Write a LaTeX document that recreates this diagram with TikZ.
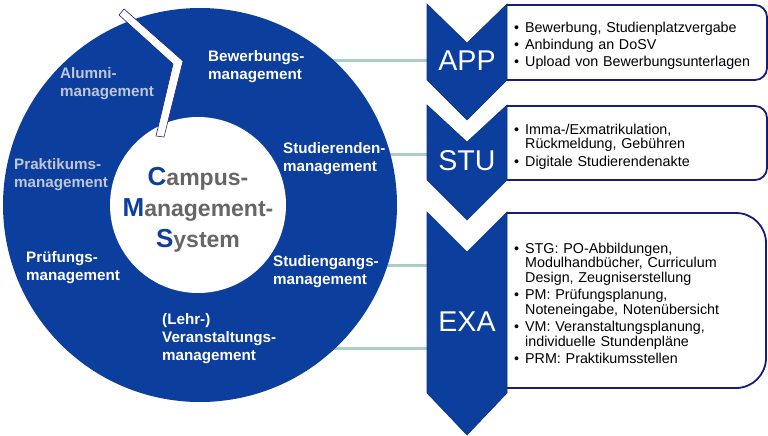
\documentclass[tikz,border=0pt]{standalone}
\usepackage{fontspec}
\setmainfont{Liberation Sans}
\usetikzlibrary{positioning, calc, backgrounds}

\definecolor{cmsblue}{RGB}{12,62,158}
\definecolor{cmsnavy}{RGB}{24,26,128}
\definecolor{cmsgray}{RGB}{102,102,102}
\definecolor{cmspale}{RGB}{192,198,214}
\definecolor{cmslink}{RGB}{170,206,194}

% Aufzaehlungspunkt mit haengendem Einzug
\newcommand{\bul}{\par\setlength{\hangindent}{11pt}\hangafter=1\relax
	\makebox[11pt][l]{\textbullet}}
% Absatzabstand in den Listen
\newcommand{\itemgap}{\setlength{\parindent}{0pt}\setlength{\parskip}{2.6pt}}
% grosser blauer Anfangsbuchstabe
\newcommand{\cmsinit}[1]{{\color{cmsblue}\fontsize{26}{31}\selectfont #1}}

\begin{document}
\begin{tikzpicture}[
		x=1pt, y=-1pt,
		% --- KREIS ---
		ring/.style={
			circle,
			fill=cmsblue,
			minimum size=394pt,
			inner sep=0pt
		},
		hub/.style={
			circle,
			fill=white,
			minimum size=176pt,
			inner sep=0pt
		},
		cut/.style={
			fill=white,
			draw=cmsnavy,
			line width=0.6pt
		},
		lbl/.style={
			anchor=west,
			align=left,
			inner sep=0pt,
			text=white,
			font=\bfseries\fontsize{15.2}{18}\selectfont
		},
		% --- MODULE ---
		chev/.style={
			fill=cmsblue,
			draw=cmsblue!80!black,
			line width=0.6pt
		},
		chevtxt/.style={
			text=white,
			inner sep=0pt,
			font=\fontsize{28.6}{30}\selectfont
		},
		panel/.style={
			draw=cmsnavy,
			fill=white,
			line width=1.8pt
		},
		items/.style={
			anchor=west,
			align=left,
			text width=250pt,
			inner sep=0pt,
			font=\fontsize{14.3}{14.7}\selectfont
		},
		link/.style={
			draw=cmslink,
			line width=3pt
		}
		]
		
		\useasboundingbox (0,0) rectangle (768,436);
		
		% --- CAMPUS-MANAGEMENT-SYSTEM ---
		\node (ring) [ring] at (200,205) {};
		\node (hub) [hub] at (198,205) {};
		\node (cms) [align=center, inner sep=0pt, text=cmsgray,
			font=\bfseries\fontsize{23}{31}\selectfont] at (198,210)
			{\cmsinit{C}ampus-\\\cmsinit{M}anagement-\\\cmsinit{S}ystem};
		
		% Einschnitt im Ring
		\draw [cut] (119,15) -- (124,9) -- (183,61) -- (164,137)
			-- (156,136) -- (173,64) -- cycle;
		
		% --- TEILBEREICHE ---
		\node (bew) [lbl] at (208,67) {Bewerbungs-\\management};
		\node (alu) [lbl, text=cmspale] at (60,84) {Alumni-\\management};
		\node (stud) [lbl] at (283,159) {Studierenden-\\management};
		\node (prak) [lbl, text=cmspale] at (14,175) {Praktikums-\\management};
		\node (pruef) [lbl] at (26,268) {Prüfungs-\\management};
		\node (stg) [lbl] at (273,272) {Studiengangs-\\management};
		\node (vm) [lbl] at (162,339) {(Lehr-)\\Veranstaltungs-\\management};
		
		% --- APP ---
		\draw [panel, rounded corners=12pt] (507,5) -| (767,80) -- (507,80);
		\path [chev] (427,4) -- (467,43) -- (507,4) -- (507,80) -- (467,120)
			-- (427,80) -- cycle;
		\node (app) [chevtxt] at (467,61) {APP};
		\node (appitems) [items] at (514,42.5) {\itemgap
			\bul Bewerbung, Studienplatzvergabe
			\bul Anbindung an DoSV
			\bul Upload von Bewerbungsunterlagen
		};
		
		% --- STU ---
		\draw [panel, rounded corners=12pt] (507,106) -| (767,180) -- (507,180);
		\path [chev] (427,105) -- (467,142) -- (507,105) -- (507,180) -- (467,220)
			-- (427,180) -- cycle;
		\node (stu) [chevtxt] at (467,161) {STU};
		\node (stuitems) [items] at (514,143) {\itemgap
			\bul Imma-/Exmatrikulation,\newline Rückmeldung, Gebühren
			\bul Digitale Studierendenakte
		};
		
		% --- EXA ---
		\draw [panel, rounded corners=30pt] (507,213) -| (766,388) -- (507,388);
		\path [chev] (427,212) -- (467,252) -- (507,212) -- (507,393) -- (467,435)
			-- (427,393) -- cycle;
		\node (exa) [chevtxt] at (467,322) {EXA};
		\node (exaitems) [items] at (514,300) {\itemgap
			\bul STG: PO-Abbildungen,\newline Modulhandbücher, Curriculum\newline Design, Zeugniserstellung
			\bul PM: Prüfungsplanung,\newline Noteneingabe, Notenübersicht
			\bul VM: Veranstaltungsplanung,\newline individuelle Stundenpläne
			\bul PRM: Praktikumsstellen
		};
		
		% --- VERBINDUNGEN ---
		\coordinate [above=7pt of stu.west] (stuin);
		\coordinate [above=57pt of exa.west] (exain);
		\coordinate [below=26pt of exa.west] (exaout);
		\begin{scope}[on background layer]
			\draw [link] (ring.center |- app.west) -- (app.west);
			\draw [link] (ring.center |- stuin) -- (stuin);
			\draw [link] (ring.center |- exain) -- (exain);
			\draw [link] (ring.center |- exaout) -- (exaout);
		\end{scope}
		
	\end{tikzpicture}
\end{document}
